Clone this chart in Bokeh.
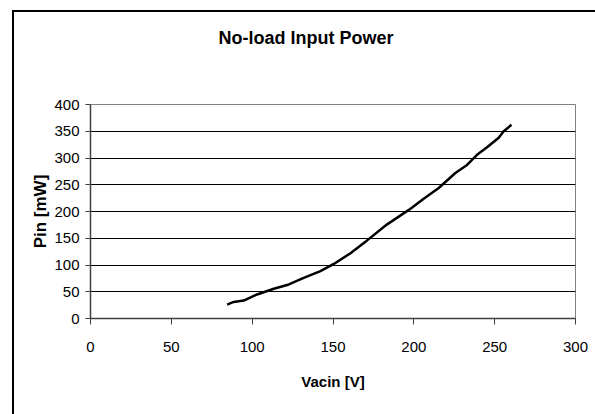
from bokeh.plotting import figure
from bokeh.models import FixedTicker, Range1d, Title
from bokeh.embed import file_html
from bokeh.resources import INLINE

# Data
vacin = [84.5, 88.6, 94.8, 103, 113.4, 122.7, 131.9, 142.2, 150.5, 160.8, 171.1,
         183.5, 196.9, 206.1, 215.4, 225.7, 232.9, 239.1, 245.3, 252.5, 255.6, 260.4]
pin = [26, 31, 33.6, 44.9, 55.5, 63.6, 76, 88.5, 102, 122, 146,
       176, 203, 224, 244, 272, 287, 306, 320, 338, 350, 362]

x_ticks = [0, 50, 100, 150, 200, 250, 300]
y_ticks = [0, 50, 100, 150, 200, 250, 300, 350, 400]
y_grid = [50, 100, 150, 200, 250, 300, 350]

title_text = "No-load Input Power"
x_label = "Vacin [V]"
y_label = "Pin [mW]"

FONT = "Liberation Sans"

p = figure(width=595, height=414, output_backend="svg", toolbar_location=None,
           x_range=Range1d(0, 300), y_range=Range1d(0, 400),
           min_border_left=90, min_border_right=20, min_border_top=104, min_border_bottom=96)

p.background_fill_color = "white"
p.border_fill_color = None
# outer chart border: left and top edges only (right/bottom run off the page)
p.styles = {
    "background": ("linear-gradient(#000,#000) 12px 10px / 2px 420px no-repeat, "
                   "linear-gradient(#000,#000) 12px 10px / 600px 2px no-repeat, white"),
}
p.outline_line_color = "#808080"
p.outline_line_width = 1

# spacer panel between frame and title, then the title itself
spacer = Title(text=" ", text_font_size="1px", standoff=49)
p.add_layout(spacer, "above")
t = Title(text=title_text, align="left", offset=128,
          text_font=FONT, text_font_size="18px", text_font_style="bold",
          text_color="#000000", standoff=10)
p.add_layout(t, "above")

p.line(vacin, pin, line_color="#000000", line_width=2.5)

# axes
p.xaxis.ticker = FixedTicker(ticks=x_ticks)
p.yaxis.ticker = FixedTicker(ticks=y_ticks)
p.xaxis.minor_tick_line_color = None
p.yaxis.minor_tick_line_color = None
for ax in (p.xaxis[0], p.yaxis[0]):
    ax.axis_line_color = "#404040"
    ax.axis_line_width = 1.5
    ax.major_tick_line_color = "#404040"
    ax.major_tick_in = 0
    ax.major_tick_out = 6
    ax.major_label_text_font = FONT
    ax.major_label_text_font_size = "15px"
    ax.major_label_text_color = "#000000"
    ax.axis_label_text_font = FONT
    ax.axis_label_text_font_style = "bold"
    ax.axis_label_text_color = "#000000"

p.xaxis.axis_label = x_label
p.yaxis.axis_label = y_label
p.xaxis.axis_label_text_font_size = "15px"
p.yaxis.axis_label_text_font_size = "17px"
p.xaxis.major_label_standoff = 17
p.xaxis.axis_label_standoff = 18
p.yaxis.major_label_standoff = 6
p.yaxis.axis_label_standoff = 1
p.yaxis.major_tick_out = 5

# grid
p.xgrid.grid_line_color = None
p.ygrid.ticker = FixedTicker(ticks=y_grid)
p.ygrid.grid_line_color = "#000000"
p.ygrid.grid_line_width = 1

open("out.html", "w").write(file_html(p, INLINE))
